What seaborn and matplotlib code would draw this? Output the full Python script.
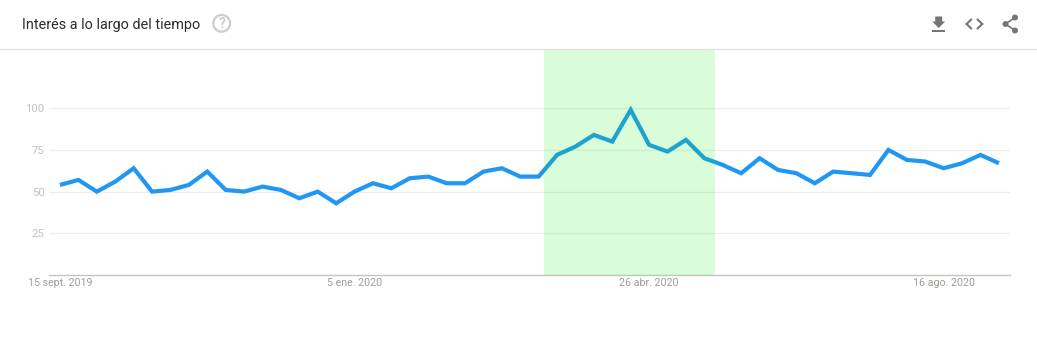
import matplotlib
matplotlib.use("Agg")
import matplotlib.pyplot as plt
from matplotlib.patches import Circle, Polygon, Rectangle
import pandas as pd
import seaborn as sns

# ---- data ----
start_week = "2019-09-15"
interest = [54, 57, 50, 56, 64, 50, 51, 54, 62, 51,
            50, 53, 51, 46, 50, 43, 50, 55, 52, 58,
            59, 55, 55, 62, 64, 59, 59, 72, 77, 84,
            80, 99, 78, 74, 81, 70, 66, 61, 70, 63,
            61, 55, 62, 61, 60, 75, 69, 68, 64, 67,
            72, 67]
y_ticks = [25, 50, 75, 100]
x_tick_dates = ["2019-09-15", "2020-01-05", "2020-04-26", "2020-08-16"]
x_tick_labels = ["15 sept. 2019", "5 ene. 2020", "26 abr. 2020", "16 ago. 2020"]
band = ("2020-03-17", "2020-05-21")
title = "Interés a lo largo del tiempo"

W, H = 1037, 353
sns.set_theme(style="white")
plt.rcParams["font.family"] = ["Roboto", "DejaVu Sans"]

fig = plt.figure(figsize=(W / 100, H / 100), dpi=100, facecolor="white")
left, right, top, bottom = 49, 1009.5, 49, 275
ax = fig.add_axes([left / W, 1 - bottom / H, (right - left) / W, (bottom - top) / H])

df = pd.DataFrame({
    "fecha": pd.date_range(start_week, periods=len(interest), freq="7D"),
    "interes": interest,
})
sns.lineplot(data=df, x="fecha", y="interes", ax=ax, color="#2196f3", linewidth=3.0,
             solid_joinstyle="miter", solid_capstyle="butt", zorder=3)

x0 = df["fecha"].iloc[0]
day_px = 18.41 / 7
ax.set_xlim(x0 - pd.Timedelta(days=(60 - left) / day_px),
            x0 + pd.Timedelta(days=(right - 60) / day_px))
ax.set_ylim(0, (bottom - top) / 1.668)

ax.axvspan(pd.Timestamp(band[0]), pd.Timestamp(band[1]), color=(0, 0.95, 0), alpha=0.15,
           linewidth=0, zorder=4)

ax.set_yticks(y_ticks)
ax.set_yticklabels([str(v) for v in y_ticks])
ax.set_xticks(pd.to_datetime(x_tick_dates))
ax.set_xticklabels(x_tick_labels)
ax.tick_params(axis="y", length=0, pad=3.2, labelsize=8.2, labelcolor="#bcc4c8")
ax.tick_params(axis="x", length=0, pad=2.4, labelsize=7.65, labelcolor="#a09c96")
ax.grid(axis="y", color="#eeeeee", linewidth=0.9, zorder=1)
ax.grid(axis="x", visible=False)
ax.set_axisbelow(True)
ax.set_xlabel("")
ax.set_ylabel("")
for side in ("top", "left", "right"):
    ax.spines[side].set_visible(False)
ax.spines["bottom"].set_color("#c4c4c4")
ax.spines["bottom"].set_linewidth(1.0)

# ---- page chrome in pixel coordinates ----
ov = fig.add_axes([0, 0, 1, 1], facecolor="none")
ov.set_xlim(0, W)
ov.set_ylim(H, 0)
ov.axis("off")
ov.plot([0, W], [49, 49], color="#e0e0e0", lw=0.9)
ov.text(22, 25, title, fontsize=10.4, color="#2c2c2c", va="center", ha="left")

ov.add_patch(Circle((221.7, 23.3), 8.4, fill=False, ec="#cccccc", lw=1.6))
ov.text(221.7, 23.5, "?", fontsize=10, fontweight="bold", color="#cccccc", ha="center", va="center")

icon = "#757575"
ov.add_patch(Polygon([(935.2, 16.5), (942.2, 16.5), (942.2, 21.5), (945.2, 21.5), (938.7, 28), (932.2, 21.5), (935.2, 21.5)],
                     closed=True, fc=icon, ec="none"))
ov.add_patch(Rectangle((932.2, 30), 13, 2, fc=icon, ec="none"))
ov.plot([971.3, 966.5, 971.3], [19.5, 24, 28.5], color=icon, lw=1.5, solid_joinstyle="miter")
ov.plot([977.5, 982.3, 977.5], [19.5, 24, 28.5], color=icon, lw=1.5, solid_joinstyle="miter")
ov.plot([1015, 1005.5, 1015], [17.5, 24, 30.5], color=icon, lw=1.2)
for cx, cy in [(1015, 17.5), (1005.5, 24), (1015, 30.5)]:
    ov.add_patch(Circle((cx, cy), 3, fc=icon, ec="none"))

fig.savefig("out.png", dpi=100, facecolor="white")
